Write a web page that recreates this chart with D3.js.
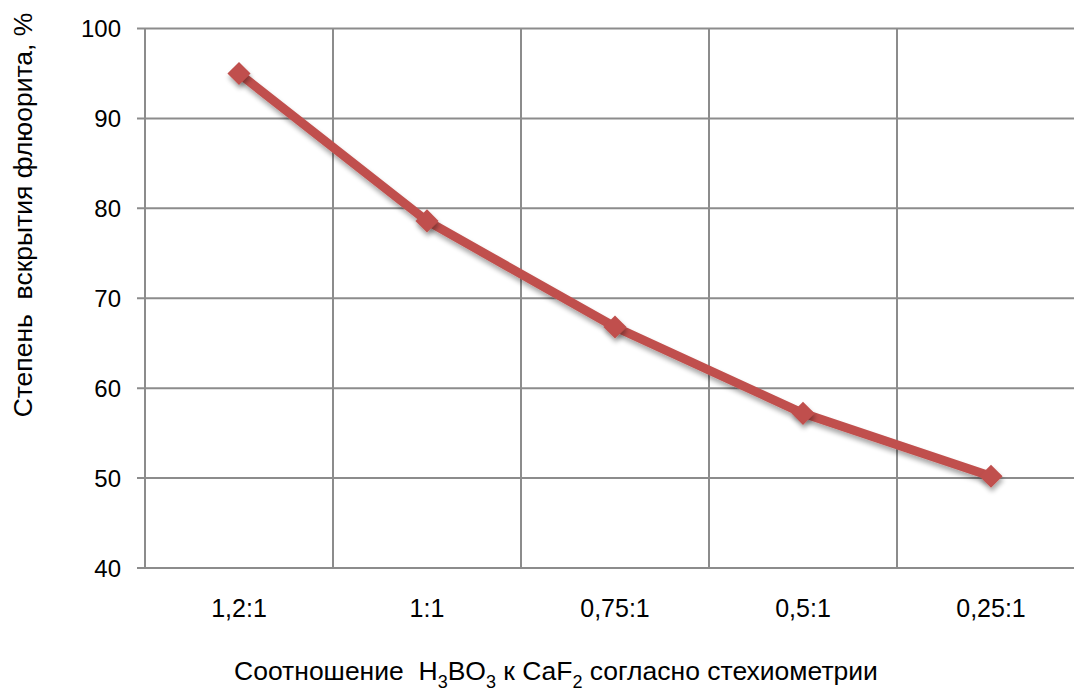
<!DOCTYPE html>
<html><head><meta charset="utf-8">
<script src="https://cdn.jsdelivr.net/npm/d3@7"></script>
<style>body{margin:0;background:#fff}svg{display:block}text{font-family:"Liberation Sans",Arial,sans-serif;fill:#000}</style>
</head><body><svg id="c" width="1074" height="691"></svg>
<script>
const categories = ["1,2:1","1:1","0,75:1","0,5:1","0,25:1"];
const values = [95.0, 78.6, 66.8, 57.2, 50.2];
const yTicks = [40,50,60,70,80,90,100];

const svg = d3.select("#c");
const L = 145, R = 1085, T = 28.5, B = 568;
const x = d3.scaleBand().domain(categories).range([L, R]);
const y = d3.scaleLinear().domain([40,100]).range([B, T]);
const grid = "#8c8c8c";

const defs = svg.append("defs");
const f = defs.append("filter").attr("id","sh").attr("x","-50%").attr("y","-50%").attr("width","200%").attr("height","200%");
f.append("feGaussianBlur").attr("in","SourceAlpha").attr("stdDeviation",2.5).attr("result","b");
f.append("feOffset").attr("in","b").attr("dx",1).attr("dy",4).attr("result","o");
f.append("feComponentTransfer").attr("in","o").attr("result","o2").append("feFuncA").attr("type","linear").attr("slope",0.35);
const m = f.append("feMerge"); m.append("feMergeNode").attr("in","o2"); m.append("feMergeNode").attr("in","SourceGraphic");

svg.append("g").selectAll("line").data(yTicks).join("line")
  .attr("x1", L-8).attr("x2", R).attr("y1", d=>y(d)).attr("y2", d=>y(d))
  .attr("stroke", grid).attr("stroke-width", 2);
const vx = categories.map(c=>x(c)).concat([R]);
svg.append("g").selectAll("line").data(vx).join("line")
  .attr("x1", d=>d).attr("x2", d=>d).attr("y1", T).attr("y2", B)
  .attr("stroke", grid).attr("stroke-width", 2);

svg.append("g").selectAll("text").data(yTicks).join("text")
  .attr("x", 121).attr("y", d=>y(d)).attr("dy","0.36em").attr("text-anchor","end")
  .attr("font-size", 24).text(d=>d);
svg.append("g").selectAll("text").data(categories).join("text")
  .attr("x", d=>x(d)+x.bandwidth()/2).attr("y", 617).attr("text-anchor","middle")
  .attr("font-size", 25).text(d=>d);

const pts = categories.map((c,i)=>[x(c)+x.bandwidth()/2, y(values[i])]);
svg.append("path").attr("d", d3.line()(pts)).attr("fill","none")
  .attr("stroke","#c0504d").attr("stroke-width",9).attr("stroke-linejoin","round")
  .attr("filter","url(#sh)");
svg.append("g").selectAll("path").data(pts).join("path")
  .attr("d", d3.symbol().type(d3.symbolDiamond2).size(340))
  .attr("transform", d=>`translate(${d[0]},${d[1]})`)
  .attr("fill","#c0504d").attr("filter","url(#sh)");

svg.append("text").attr("transform","translate(32,215) rotate(-90)")
  .attr("text-anchor","middle").attr("font-size",26.5).attr("xml:space","preserve")
  .text("Степень  вскрытия флюорита, %");
const xt = svg.append("text").attr("x", 556).attr("y", 680).attr("text-anchor","middle")
  .attr("font-size",26.5).attr("xml:space","preserve");
xt.append("tspan").text("Соотношение  H");
xt.append("tspan").attr("dy",8).attr("font-size",18).text("3");
xt.append("tspan").attr("dy",-8).text("BO");
xt.append("tspan").attr("dy",8).attr("font-size",18).text("3");
xt.append("tspan").attr("dy",-8).text(" к CaF");
xt.append("tspan").attr("dy",8).attr("font-size",18).text("2");
xt.append("tspan").attr("dy",-8).text(" согласно стехиометрии");
</script></body></html>
